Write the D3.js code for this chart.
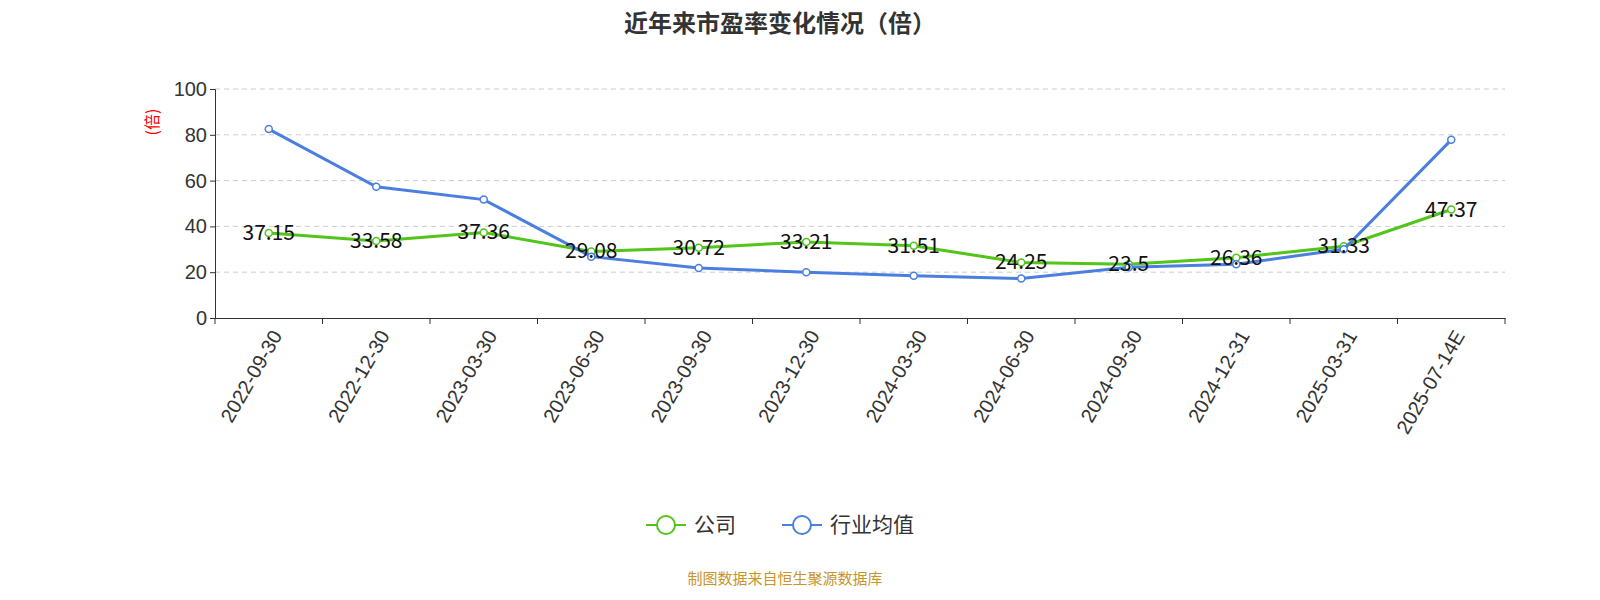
<!DOCTYPE html>
<html><head><meta charset="utf-8">
<script src="https://cdn.jsdelivr.net/npm/d3@7/dist/d3.min.js"></script>
<style>body{margin:0;background:#fff;font-family:"Noto Sans CJK SC","Noto Sans",sans-serif;}</style>
</head><body><svg id="c" width="1600" height="600"></svg>
<script>
var dates = ["2022-09-30","2022-12-30","2023-03-30","2023-06-30","2023-09-30","2023-12-30","2024-03-30","2024-06-30","2024-09-30","2024-12-31","2025-03-31","2025-07-14E"];
var company = [37.15,33.58,37.36,29.08,30.72,33.21,31.51,24.25,23.5,26.36,31.33,47.37];
var industry = [82.5,57.3,51.7,26.8,21.8,20.0,18.5,17.2,22.2,23.5,30.0,77.8];
var yTicks = [0,20,40,60,80,100];

var svg = d3.select('#c');
var x = d3.scaleBand().domain(dates).range([215,1505]);
var y = d3.scaleLinear().domain([0,100]).range([318,89]);
var cx = function(d,i){ return x(dates[i]) + x.bandwidth()/2; };

svg.append('text').attr('x',780).attr('y',32).attr('text-anchor','middle')
  .attr('font-size',24).attr('font-weight','bold').attr('fill','#333').text('近年来市盈率变化情况（倍）');

svg.selectAll('.g').data(yTicks.slice(1)).enter().append('line')
  .attr('x1',215).attr('x2',1505).attr('y1',y).attr('y2',y)
  .attr('stroke','#ccc').attr('stroke-dasharray','5,4');

var ya = svg.append('g').attr('transform','translate(215,0)').call(d3.axisLeft(y).tickValues(yTicks).tickSize(5));
ya.selectAll('text').attr('font-size',20).attr('fill','#333');
ya.selectAll('path,line').attr('stroke','#333');

var xa = svg.append('g').attr('transform','translate(0,318)').call(d3.axisBottom(x).tickSize(0));
xa.selectAll('.tick line').remove();
xa.selectAll('path').attr('stroke','#333');
xa.selectAll('text').attr('font-size',20).attr('fill','#333')
  .attr('text-anchor','end').attr('dx','-0.4em').attr('dy','0.9em')
  .attr('transform','rotate(-60)');
svg.selectAll('.xt').data(d3.range(dates.length+1)).enter().append('line')
  .attr('x1',function(i){return 215+i*x.bandwidth();}).attr('x2',function(i){return 215+i*x.bandwidth();})
  .attr('y1',318).attr('y2',324).attr('stroke','#333');

svg.append('text').attr('transform','translate(158,122) rotate(-90)').attr('text-anchor','middle')
  .attr('font-size',16).attr('fill','red').text('(倍)');

function series(data,color){
  svg.append('path').datum(data).attr('fill','none').attr('stroke',color).attr('stroke-width',3)
    .attr('d',d3.line().x(cx).y(function(d){return y(d);}));
  svg.selectAll(null).data(data).enter().append('circle')
    .attr('cx',cx).attr('cy',function(d){return y(d);}).attr('r',3.5)
    .attr('fill','#fff').attr('stroke',color).attr('stroke-width',1.5);
}
series(company,'#52c41a');
series(industry,'#4a7fe0');

svg.selectAll(null).data(company).enter().append('text')
  .attr('x',cx).attr('y',function(d){return y(d)+7;}).attr('text-anchor','middle')
  .attr('font-size',21).attr('fill','#111').text(function(d){return d;});

function leg(xp,color,label){
  svg.append('line').attr('x1',xp).attr('x2',xp+40).attr('y1',525).attr('y2',525).attr('stroke',color).attr('stroke-width',2);
  svg.append('circle').attr('cx',xp+20).attr('cy',525).attr('r',9).attr('fill','#fff').attr('stroke',color).attr('stroke-width',2);
  svg.append('text').attr('x',xp+48).attr('y',532).attr('font-size',21).attr('fill','#333').text(label);
}
leg(646,'#52c41a','公司');
leg(782,'#4a7fe0','行业均值');

svg.append('text').attr('x',785).attr('y',584).attr('text-anchor','middle')
  .attr('font-size',15).attr('fill','#c8952a').text('制图数据来自恒生聚源数据库');
</script></body></html>
